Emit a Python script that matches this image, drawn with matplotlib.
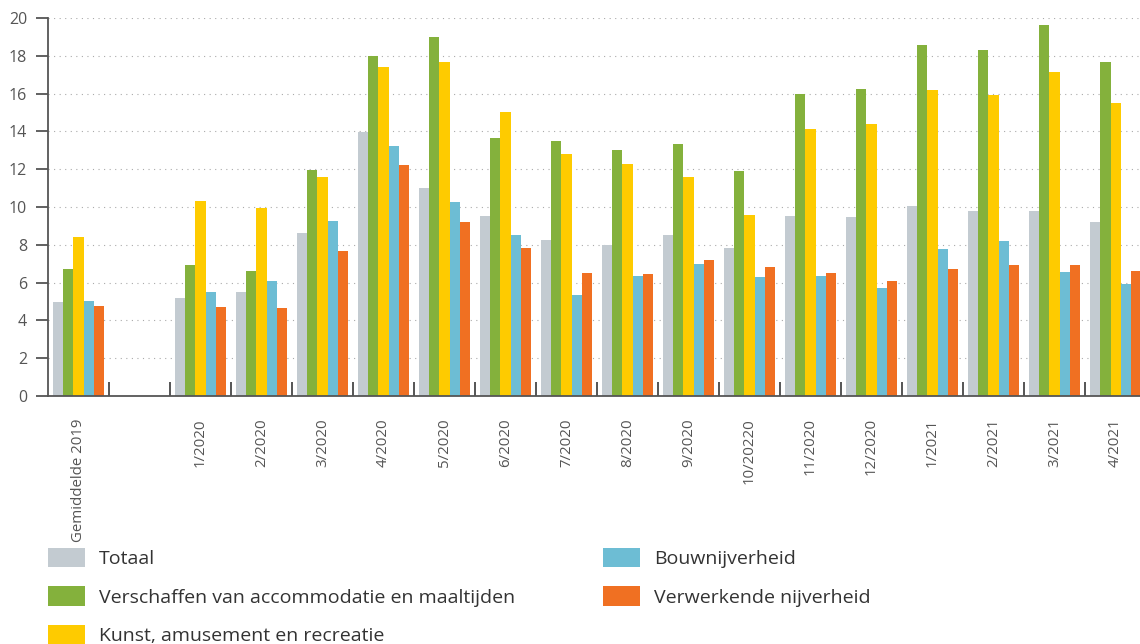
import numpy as np
import matplotlib.pyplot as plt

plt.rcParams['font.family'] = ['Open Sans', 'DejaVu Sans']

categories = ['Gemiddelde 2019', '', '1/2020', '2/2020', '3/2020', '4/2020', '5/2020',
              '6/2020', '7/2020', '8/2020', '9/2020', '10/20220', '11/2020', '12/2020',
              '1/2021', '2/2021', '3/2021', '4/2021']

totaal = [5.0, np.nan, 5.2, 5.5, 8.65, 13.95, 11.0, 9.5, 8.25, 8.0, 8.5, 7.85,
          9.5, 9.45, 10.05, 9.8, 9.8, 9.2]
horeca = [6.7, np.nan, 6.95, 6.6, 11.95, 17.97, 19.0, 13.65, 13.5, 13.0, 13.35, 11.9,
          16.0, 16.25, 18.55, 18.3, 19.65, 17.65]
kunst = [8.4, np.nan, 10.3, 9.95, 11.6, 17.4, 17.65, 15.05, 12.8, 12.25, 11.6, 9.6,
         14.15, 14.4, 16.2, 15.95, 17.15, 15.5]
bouw = [5.05, np.nan, 5.5, 6.1, 9.25, 13.25, 10.25, 8.5, 5.35, 6.35, 7.0, 6.3,
        6.35, 5.7, 7.8, 8.2, 6.55, 5.9]
industrie = [4.75, np.nan, 4.7, 4.65, 7.65, 12.2, 9.2, 7.85, 6.5, 6.45, 7.2, 6.8,
             6.5, 6.1, 6.7, 6.95, 6.95, 6.6]

series = [
    ('Totaal', totaal, '#c3cbd1'),
    ('Verschaffen van accommodatie en maaltijden', horeca, '#84b13c'),
    ('Kunst, amusement en recreatie', kunst, '#fecb00'),
    ('Bouwnijverheid', bouw, '#6dbdd4'),
    ('Verwerkende nijverheid', industrie, '#f07022'),
]

fig = plt.figure(figsize=(11.4, 6.44), dpi=100)
ax = fig.add_axes([48 / 1140, 1 - 396 / 644, 1 - 48 / 1140, 378 / 644])

x = np.arange(len(categories))
w = 0.167
for i, (name, vals, col) in enumerate(series):
    ax.bar(x + (i - 2) * w, vals, width=w, color=col, label=name, linewidth=0)

ax.set_xlim(-0.5, 17.4)
ax.set_ylim(0, 20)
ax.set_yticks(range(0, 21, 2))
ax.yaxis.grid(True, linestyle=(0, (1, 4)), color='#aaaaaa', linewidth=0.8)
ax.set_axisbelow(True)

ax.set_xticks(x)
ax.set_xticklabels(categories, rotation=90, fontsize=10.8, color='#555555')
ax.set_xticks(np.arange(0.5, 17, 1), minor=True)
ax.tick_params(axis='x', which='major', length=0, pad=16)
ax.tick_params(axis='x', which='minor', direction='in', length=10, width=1.4, color='#555555')
ax.tick_params(axis='y', length=9, width=1.3, color='#555555', labelsize=11.5,
               labelcolor='#555555', pad=6)

for s in ['top', 'right']:
    ax.spines[s].set_visible(False)
for s in ['left', 'bottom']:
    ax.spines[s].set_color('#555555')
    ax.spines[s].set_linewidth(1.3)

fig.legend(loc='upper left', bbox_to_anchor=(40 / 1140, 1 - 540 / 644), ncol=2,
           frameon=False, fontsize=14, handlelength=1.9, handleheight=1.15,
           handletextpad=0.75, labelspacing=0.95, columnspacing=4.5,
           labelcolor='#333333', borderaxespad=0)

fig.savefig('out.png', dpi=100)
